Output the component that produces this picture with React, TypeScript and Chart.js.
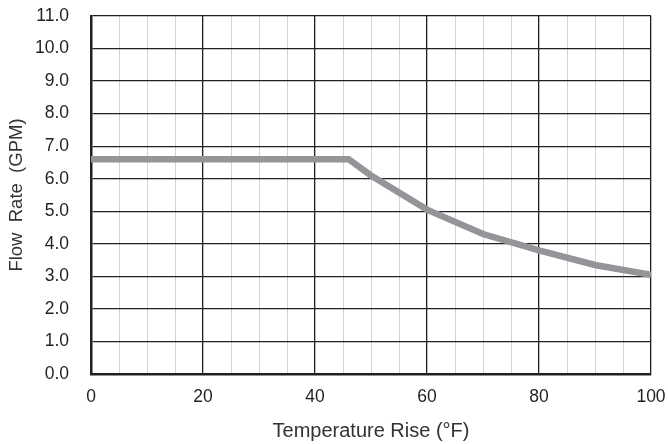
import React, { useEffect, useRef } from "react";
import { Chart, registerables } from "chart.js";

Chart.register(...registerables);

const tempRise = [0, 46, 50, 60, 70, 80, 90, 100];
const flowRate = [6.6, 6.6, 6.1, 5.05, 4.3, 3.8, 3.35, 3.05];
const xTitle = "Temperature Rise (°F)";
const yTitle = "Flow  Rate  (GPM)";

const DARK = "#231f20";
const MINOR = "#d4d4d4";
const FONT = "'Liberation Sans', Arial, Helvetica, sans-serif";

export default function App() {
  const ref = useRef<HTMLCanvasElement | null>(null);
  useEffect(() => {
    document.body.style.margin = "0";
    const ctx = ref.current!.getContext("2d")!;
    const chart = new Chart(ctx, {
      type: "line",
      data: {
        datasets: [
          {
            data: tempRise.map((x, i) => ({ x, y: flowRate[i] })),
            borderColor: "#939598",
            borderWidth: 6.5,
            pointRadius: 0,
            tension: 0,
            fill: false,
          },
        ],
      },
      options: {
        animation: false,
        responsive: false,
        maintainAspectRatio: false,
        layout: { padding: { top: 16, right: 17, bottom: 0, left: 6 } },
        plugins: { legend: { display: false }, tooltip: { enabled: false } },
        scales: {
          x: {
            type: "linear",
            min: 0,
            max: 100,
            afterFit: (s: any) => {
              s.height = 70;
              s.paddingLeft = 0;
              s.paddingRight = 0;
            },
            ticks: {
              stepSize: 5,
              autoSkip: false,
              maxRotation: 0,
              color: DARK,
              font: { family: FONT, size: 17.5 },
              padding: 13,
              callback: (v: any) => (Number(v) % 20 === 0 ? String(v) : ""),
            },
            grid: {
              drawTicks: false,
              color: (c: any) => (c.tick && c.tick.value % 20 === 0 ? DARK : MINOR),
              lineWidth: (c: any) => (c.tick && c.tick.value % 20 === 0 ? 1.3 : 1),
            },
            border: { color: DARK, width: 2.5 },
            title: {
              display: true,
              text: xTitle,
              color: "#333",
              font: { family: FONT, size: 20 },
              padding: { top: 0, bottom: 1 },
            },
          },
          y: {
            type: "linear",
            min: 0,
            max: 11,
            afterFit: (s: any) => {
              s.width = 85;
              s.paddingTop = 0;
              s.paddingBottom = 0;
            },
            ticks: {
              stepSize: 1,
              color: DARK,
              font: { family: FONT, size: 17.5 },
              padding: 22,
              callback: (v: any) => Number(v).toFixed(1),
            },
            grid: { drawTicks: false, color: DARK, lineWidth: 1.3 },
            border: { color: DARK, width: 2.5 },
            title: {
              display: true,
              text: yTitle,
              color: "#333",
              font: { family: FONT, size: 18.5 },
              padding: { top: 0, bottom: 0 },
            },
          },
        },
      },
    });
    return () => chart.destroy();
  }, []);
  return (
    <div style={{ position: "absolute", left: 0, top: 0, width: 668, height: 444, background: "#fff" }}>
      <canvas ref={ref} width={668} height={444} style={{ width: 668, height: 444 }} />
    </div>
  );
}
